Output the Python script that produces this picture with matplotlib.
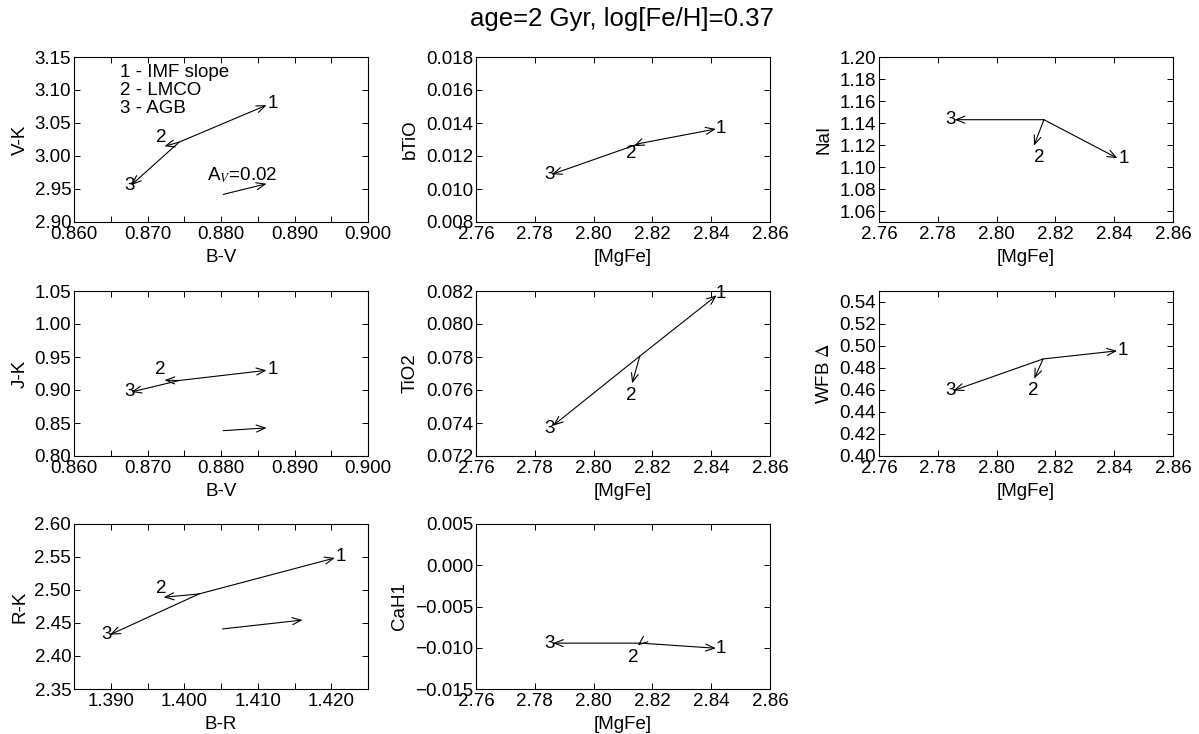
import matplotlib
matplotlib.use("Agg")
import matplotlib.pyplot as plt
from matplotlib.ticker import MultipleLocator, FuncFormatter

plt.rcParams['font.family'] = ['Liberation Sans', 'DejaVu Sans']
plt.rcParams['mathtext.fontset'] = 'stix'

# values
# order in each list: start point, 1 - IMF slope, 2 - LMCO, 3 - AGB
bv = [0.8743, 0.8862, 0.8723, 0.8678]
vk = [3.021, 3.077, 3.0147, 2.956]
jk = [0.9144, 0.9298, 0.9149, 0.897]
br = [1.4020, 1.4205, 1.3972, 1.3899]
rk = [2.494, 2.5486, 2.489, 2.4323]

mgfe_btio = [2.8157, 2.8416, 2.8137, 2.7858]
mgfe_nai = [2.8161, 2.8411, 2.8127, 2.7857]
mgfe_tio2 = [2.8157, 2.8419, 2.8131, 2.7862]
mgfe_wfb = [2.8158, 2.8410, 2.8128, 2.7853]
mgfe_cah1 = [2.8160, 2.8416, 2.8150, 2.7862]
btio = [0.01276, 0.01364, 0.01260, 0.01089]
nai = [1.143, 1.108, 1.1194, 1.143]
tio2 = [0.07805, 0.08174, 0.0764, 0.07384]
wfb = [0.4882, 0.4956, 0.4702, 0.4595]
cah1 = [-0.00944, -0.01006, -0.00973, -0.00944]

# reddening vector, A_V = 0.02 (start, end)
av_bv = [0.8803, 0.8862]
av_vk = [2.9418, 2.958]
av_jk = [0.8384, 0.8426]
av_br = [1.4052, 1.4161]
av_rk = [2.441, 2.4545]

labels = ['1', '2', '3']
legend_lines = ['1 - IMF slope', '2 - LMCO', '3 - AGB']

W, H = 1199, 734
fig = plt.figure(figsize=(W / 100, H / 100), dpi=100)

FS = 13.5
ARROW = '->,head_length=0.45,head_width=0.18'


def fmt(nd):
    return FuncFormatter(lambda v, p: ('%.*f' % (nd, v)).replace('-', '\u2212'))


def make_ax(col, row):
    lefts = [74, 476, 879]
    tops = [57, 291, 524]
    ax = fig.add_axes([lefts[col] / W, (H - tops[row] - 165) / H, 294 / W, 165 / H])
    ax.tick_params(which='both', direction='in', top=True, right=True,
                   length=4, width=0.7, labelsize=FS)
    ax.tick_params(axis='y', pad=2)
    ax.tick_params(axis='x', pad=3)
    for s in ax.spines.values():
        s.set_linewidth(0.8)
    return ax


def arrows(ax, x, y, offs):
    for i in range(1, 4):
        ax.annotate('', xy=(x[i], y[i]), xytext=(x[0], y[0]),
                    arrowprops=dict(arrowstyle=ARROW, lw=0.8, color='k',
                                    shrinkA=0, shrinkB=0, mutation_scale=14))
        dx, dy = offs[i - 1]
        ax.annotate(labels[i - 1], xy=(x[i], y[i]), xytext=(dx * 0.72, dy * 0.72),
                    textcoords='offset points', ha='center', va='center',
                    fontsize=FS)


def redden(ax, x, y):
    ax.annotate('', xy=(x[1], y[1]), xytext=(x[0], y[0]),
                arrowprops=dict(arrowstyle=ARROW, lw=0.8, color='k',
                                shrinkA=0, shrinkB=0, mutation_scale=14))


def color_axis(ax, xlab, ylab, ylim):
    ax.set_ylim(*ylim)
    ax.xaxis.set_minor_locator(MultipleLocator(0.005))
    ax.xaxis.set_major_formatter(fmt(3))
    ax.yaxis.set_major_locator(MultipleLocator(0.05))
    ax.yaxis.set_major_formatter(fmt(2))
    ax.set_xlabel(xlab, fontsize=FS)
    ax.set_ylabel(ylab, fontsize=FS, labelpad=4)


# V-K vs B-V
ax = make_ax(0, 0)
arrows(ax, bv, vk, [(6, 2), (-3, 9), (-2, 0)])
redden(ax, av_bv, av_vk)
ax.text(0.451, 0.255, r'A$_{V}$=0.02', transform=ax.transAxes, fontsize=FS,
        va='baseline', ha='left')
for k, line in enumerate(legend_lines):
    ax.text(0.156, 0.905 - 0.109 * k, line, transform=ax.transAxes,
            fontsize=FS, va='center', ha='left')
ax.set_xlim(0.86, 0.90)
ax.xaxis.set_major_locator(MultipleLocator(0.01))
color_axis(ax, 'B-V', 'V-K', (2.90, 3.15))

# J-K vs B-V
ax = make_ax(0, 1)
arrows(ax, bv, jk, [(6, 1), (-4, 11), (-2, 0)])
redden(ax, av_bv, av_jk)
ax.set_xlim(0.86, 0.90)
ax.xaxis.set_major_locator(MultipleLocator(0.01))
color_axis(ax, 'B-V', 'J-K', (0.80, 1.05))

# R-K vs B-R
ax = make_ax(0, 2)
arrows(ax, br, rk, [(6, 1), (-2, 9), (-3, 0)])
redden(ax, av_br, av_rk)
ax.set_xlim(1.385, 1.425)
ax.set_xticks([1.39, 1.40, 1.41, 1.42])
color_axis(ax, 'B-R', 'R-K', (2.35, 2.60))


def mgfe_axis(ax, ylab, ylim, yticks, nd):
    ax.set_xlim(2.76, 2.86)
    ax.xaxis.set_major_locator(MultipleLocator(0.02))
    ax.xaxis.set_major_formatter(fmt(2))
    ax.set_ylim(*ylim)
    ax.set_yticks(yticks)
    ax.yaxis.set_major_formatter(fmt(nd))
    ax.set_xlabel('[MgFe]', fontsize=FS)
    ax.set_ylabel(ylab, fontsize=FS, labelpad=5)


# bTiO
ax = make_ax(1, 0)
arrows(ax, mgfe_btio, btio, [(5, 0), (-3, -7), (-2, 0)])
mgfe_axis(ax, 'bTiO', (0.008, 0.018),
          [0.008, 0.010, 0.012, 0.014, 0.016, 0.018], 3)

# TiO2
ax = make_ax(1, 1)
arrows(ax, mgfe_tio2, tio2, [(4, 2), (-1, -12), (-3, -3)])
mgfe_axis(ax, 'TiO2', (0.072, 0.082),
          [0.072, 0.074, 0.076, 0.078, 0.080, 0.082], 3)

# CaH1
ax = make_ax(1, 2)
arrows(ax, mgfe_cah1, cah1, [(5, 0), (-4, -12), (-3, 0)])
mgfe_axis(ax, 'CaH1', (-0.015, 0.005),
          [-0.015, -0.010, -0.005, 0.0, 0.005], 3)

# NaI
ax = make_ax(2, 0)
arrows(ax, mgfe_nai, nai, [(6, 0), (5, -12), (-4, 0)])
mgfe_axis(ax, 'NaI', (1.05, 1.20),
          [1.06, 1.08, 1.10, 1.12, 1.14, 1.16, 1.18, 1.20], 2)

# WFB
ax = make_ax(2, 1)
arrows(ax, mgfe_wfb, wfb, [(6, 0), (-1, -12), (-3, 0)])
mgfe_axis(ax, 'WFB $\\Delta$', (0.40, 0.55),
          [0.40, 0.42, 0.44, 0.46, 0.48, 0.50, 0.52, 0.54], 2)

fig.text(622 / W, 1 - 19 / H, 'age=2 Gyr, log[Fe/H]=0.37', fontsize=18.5,
         ha='center', va='center')

fig.savefig('out.png', dpi=100)
